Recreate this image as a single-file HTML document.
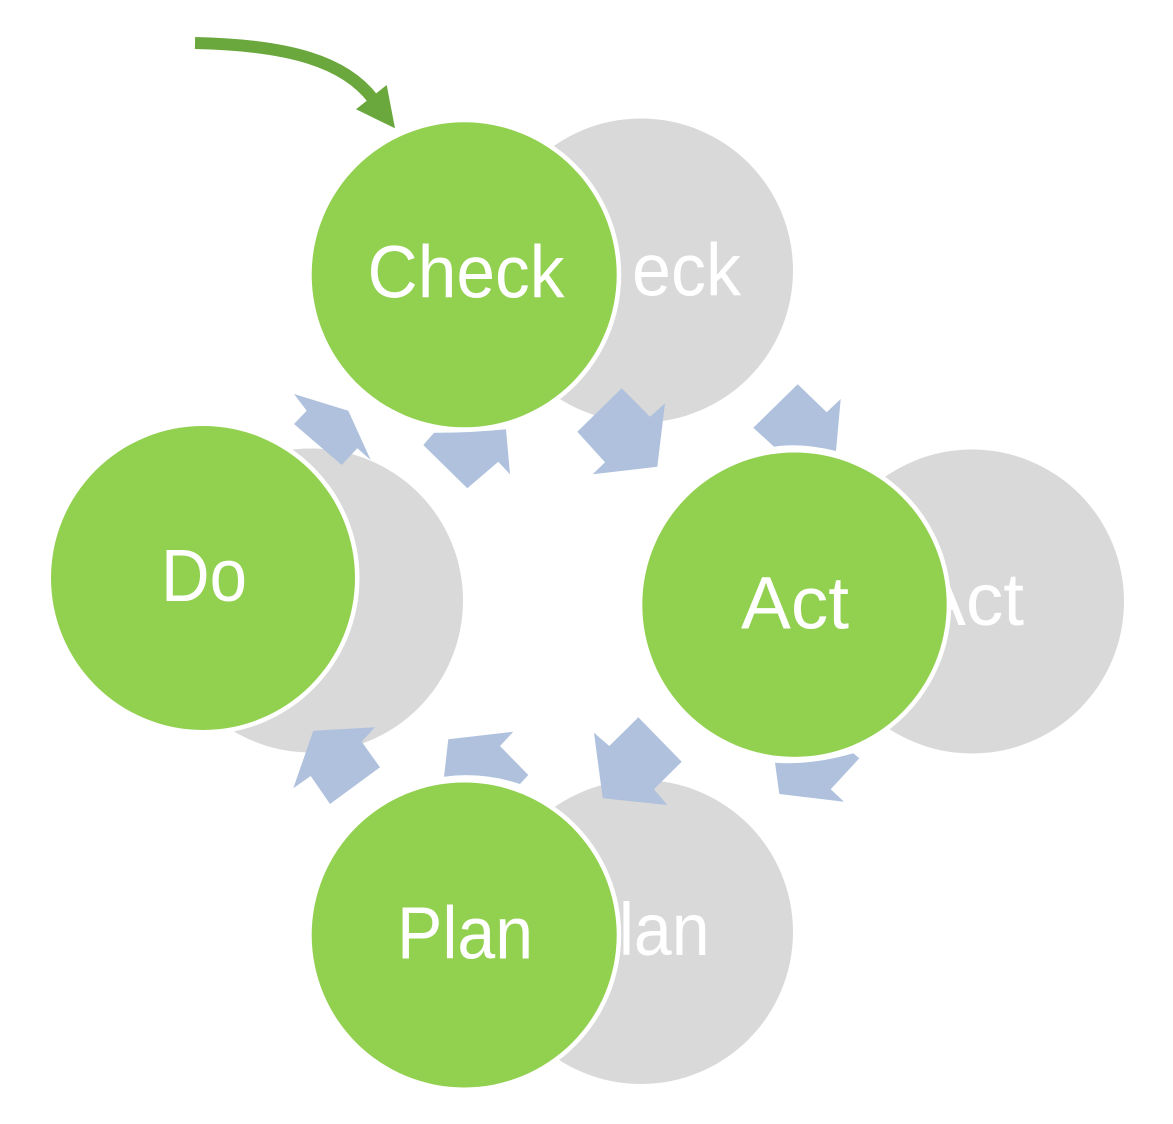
<!DOCTYPE html>
<html>
<head>
<meta charset="utf-8">
<style>
  html, body { margin: 0; padding: 0; background: #ffffff; }
  body { width: 1173px; height: 1124px; overflow: hidden; }
  svg { display: block; }
  text { font-family: "Liberation Sans", "DejaVu Sans", sans-serif; font-size: 74px; fill: #ffffff; }
</style>
</head>
<body>
<svg width="1173" height="1124" viewBox="0 0 1173 1124" xmlns="http://www.w3.org/2000/svg">
  <!-- gray shadow circles -->
  <circle cx="641" cy="270.5" r="152" fill="#d9d9d9"/>
  <circle cx="972" cy="601.5" r="152" fill="#d9d9d9"/>
  <circle cx="311" cy="600.5" r="152" fill="#d9d9d9"/>
  <circle cx="641" cy="932" r="152" fill="#d9d9d9"/>
  <text x="618" y="295.5" text-anchor="end" textLength="88" lengthAdjust="spacingAndGlyphs">Ch</text>
  <text x="741" y="295.5" text-anchor="end" textLength="109" lengthAdjust="spacingAndGlyphs">eck</text>
  <text x="970" y="625" text-anchor="middle" textLength="108" lengthAdjust="spacingAndGlyphs">Act</text>
  <text x="311" y="623" text-anchor="middle" textLength="85" lengthAdjust="spacingAndGlyphs">Do</text>
  <text x="641.5" y="955" text-anchor="middle" textLength="136" lengthAdjust="spacingAndGlyphs">Plan</text>

  <!-- blue connector arrows -->
  <g fill="#afc1dd">
    <polygon points="294,394 348.3,410.7 370.7,460 357.3,448.3 341.7,465 294,424 306.7,410.7"/>
    <path d="M423.3,445 L434,432.7 Q470,433 506,429.3 L510,474.3 L498.3,461.7 L467.3,488.3 Z"/>
    <polygon points="577.3,431.7 621.7,388.3 650,416.7 665,403.3 657.3,466.7 592.7,474.3 605,462.3"/>
    <path d="M753.3,427.7 L797.7,384.3 L826.7,412.3 L840.7,399 L836,451 Q801,442.4 774,446.7 Z"/>
    <path d="M775,762.7 Q812,765.4 853.3,753.3 L859.3,758.3 L830.7,789.3 L844,801.7 L779.3,794 Z"/>
    <polygon points="594,732.7 609.3,746 638.3,717.3 681.7,761.7 654,789.3 667.3,805 602.7,798.3"/>
    <polygon points="313.3,730.7 375,727.3 361.7,741.7 380,767.3 330,804 310.7,776 293.3,788.3"/>
    <path d="M448.3,739.3 L513.3,731.7 L500,746 L528.3,775 L520,784 Q482,771.5 444,776.7 Z"/>
  </g>

  <!-- green circles with white outline -->
  <circle cx="464.2" cy="274.8" r="157" fill="#ffffff"/>
  <circle cx="464.2" cy="274.8" r="152.5" fill="#92d050"/>
  <circle cx="794.5" cy="604.7" r="156.7" fill="#ffffff"/>
  <circle cx="794.5" cy="604.7" r="152.2" fill="#92d050"/>
  <circle cx="203" cy="578" r="156.5" fill="#ffffff"/>
  <circle cx="203" cy="578" r="152" fill="#92d050"/>
  <circle cx="464.2" cy="935" r="157" fill="#ffffff"/>
  <circle cx="464.2" cy="935" r="152.5" fill="#92d050"/>

  <text x="466" y="297.3" text-anchor="middle" textLength="197" lengthAdjust="spacingAndGlyphs">Check</text>
  <text x="795" y="628.3" text-anchor="middle" textLength="108" lengthAdjust="spacingAndGlyphs">Act</text>
  <text x="204" y="601" text-anchor="middle" textLength="86" lengthAdjust="spacingAndGlyphs">Do</text>
  <text x="465" y="958.3" text-anchor="middle" textLength="136" lengthAdjust="spacingAndGlyphs">Plan</text>

  <!-- green start arrow -->
  <path d="M195,43 C290,45 345,62 373,99" fill="none" stroke="#6aa83e" stroke-width="12" stroke-linecap="butt"/>
  <polygon points="386.7,85 395,128.3 356,109.3" fill="#6aa83e"/>
</svg>
</body>
</html>
